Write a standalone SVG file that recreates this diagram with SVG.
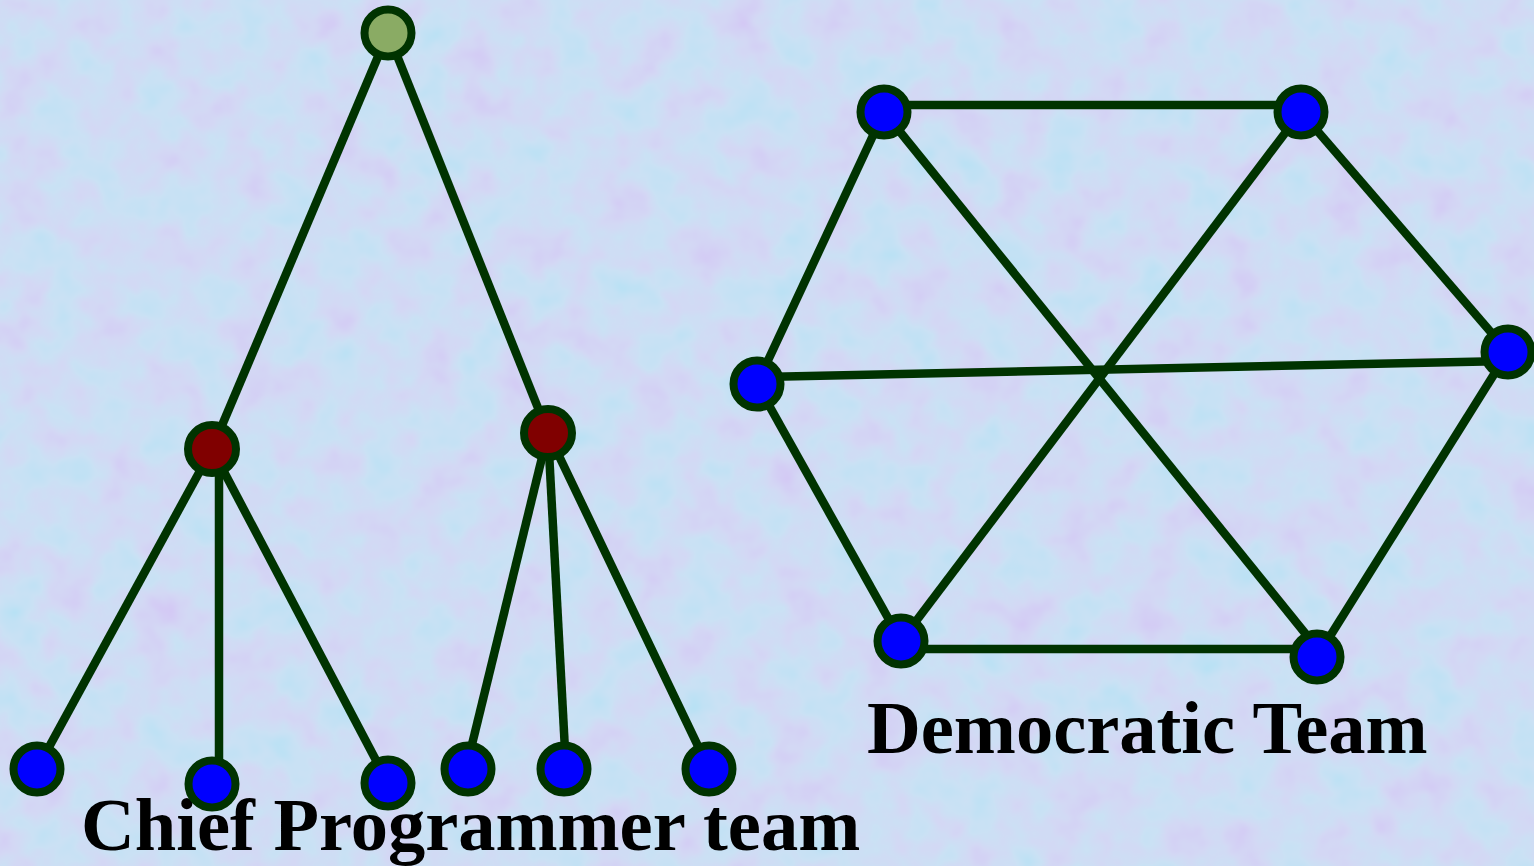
<svg xmlns="http://www.w3.org/2000/svg" width="1534" height="866" viewBox="0 0 1534 866">
<defs>
<filter id="tex" x="0" y="0" width="100%" height="100%">
<feTurbulence type="fractalNoise" baseFrequency="0.022" numOctaves="3" seed="7" result="n"/>
<feColorMatrix in="n" type="matrix" values="1.3 0 0 0 0.2  -1.3 0 0 0 1.55  0 0 0 0 0.96  0 0 0 0 0.5"/>
</filter>
<style>
.edge{stroke:#003300;stroke-width:8.5;stroke-linecap:butt;fill:none}
.node{stroke:#003300;stroke-width:8}
.blue{fill:#0000ff}
.red{fill:#800000}
.green{fill:#8aab64}
.lbl{font-family:"Liberation Serif","Times New Roman",serif;font-weight:bold;fill:#000}
</style>
</defs>
<rect width="1534" height="866" fill="#c4d6f2"/>
<rect width="1534" height="866" filter="url(#tex)" opacity="0.5"/>
<g id="connectors">
<line class="edge" x1="388" y1="33" x2="212" y2="449"/>
<line class="edge" x1="388" y1="33" x2="548" y2="433"/>
<line class="edge" x1="212" y1="449" x2="37" y2="769"/>
<line class="edge" x1="219" y1="449" x2="219" y2="784"/>
<line class="edge" x1="212" y1="449" x2="388" y2="783"/>
<line class="edge" x1="548" y1="433" x2="466" y2="769"/>
<line class="edge" x1="548" y1="433" x2="566" y2="769"/>
<line class="edge" x1="548" y1="433" x2="709" y2="769"/>
<line class="edge" x1="884" y1="105" x2="1301" y2="105"/>
<line class="edge" x1="901" y1="649" x2="1317" y2="649"/>
<line class="edge" x1="884" y1="112" x2="757" y2="384"/>
<line class="edge" x1="1301" y1="112" x2="1508" y2="352"/>
<line class="edge" x1="757" y1="384" x2="901" y2="641"/>
<line class="edge" x1="1508" y1="352" x2="1317" y2="657"/>
<line class="edge" x1="757" y1="377" x2="1508" y2="361"/>
<line class="edge" x1="884" y1="112" x2="1317" y2="648"/>
<line class="edge" x1="1301" y1="112" x2="901" y2="641"/>
</g>
<g id="labels">
<text class="lbl" x="81" y="850" font-size="74.5">Chief Programmer team</text>
<text class="lbl" x="867" y="753" font-size="74.5">Democratic Team</text>
</g>
<g id="chief"><circle class="node green" cx="388" cy="33" r="23.5"/></g>
<g id="lead1"><circle class="node red" cx="212" cy="449" r="24"/></g>
<g id="lead2"><circle class="node red" cx="548" cy="433" r="24"/></g>
<g id="p1"><circle class="node blue" cx="37" cy="769" r="23.5"/></g>
<g id="p2"><circle class="node blue" cx="212" cy="784" r="23.5"/></g>
<g id="p3"><circle class="node blue" cx="388" cy="783" r="23.5"/></g>
<g id="p4"><circle class="node blue" cx="468" cy="769" r="23.5"/></g>
<g id="p5"><circle class="node blue" cx="564" cy="769" r="23.5"/></g>
<g id="p6"><circle class="node blue" cx="709" cy="769" r="23.5"/></g>
<g id="d1"><circle class="node blue" cx="884" cy="112" r="23.5"/></g>
<g id="d2"><circle class="node blue" cx="1301" cy="112" r="23.5"/></g>
<g id="d3"><circle class="node blue" cx="757" cy="384" r="23.5"/></g>
<g id="d4"><circle class="node blue" cx="1508" cy="352" r="23.5"/></g>
<g id="d5"><circle class="node blue" cx="901" cy="641" r="23.5"/></g>
<g id="d6"><circle class="node blue" cx="1317" cy="657" r="23.5"/></g>
</svg>
